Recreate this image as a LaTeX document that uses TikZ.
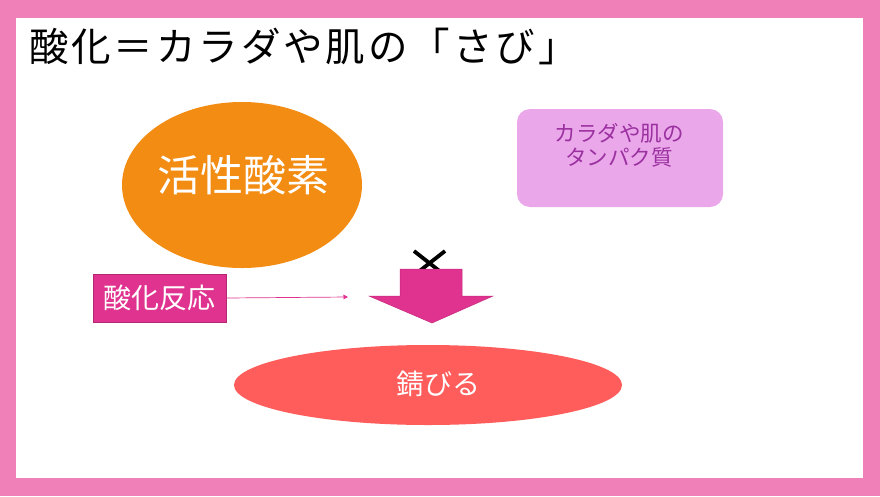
\documentclass[tikz,border=0pt]{standalone}
\usepackage{fontspec}
\newfontfamily\jp{Noto Sans CJK JP}
\usetikzlibrary{shapes.geometric,arrows.meta}
\definecolor{frame}{RGB}{240,128,184}
\definecolor{orng}{RGB}{242,140,18}
\definecolor{lilac}{RGB}{234,168,234}
\definecolor{lilactext}{RGB}{155,48,160}
\definecolor{redell}{RGB}{255,92,92}
\definecolor{mag}{RGB}{224,50,143}
\definecolor{magdark}{RGB}{180,40,115}
\newcommand\tk{\kern2.9pt}
\tikzset{
  ell/.style={ellipse,inner sep=0pt,draw=none},
  lbl/.style={font=\jp,text=white}
}
\begin{document}
\begin{tikzpicture}[x=1pt,y=-1pt]
\useasboundingbox (0,0) rectangle (880,496);
\fill[frame] (0,0) rectangle (880,496);
\fill[white] (16,18) rectangle (863,478);
% title
\node[font=\jp\fontsize{39.5}{42}\selectfont,anchor=west,inner sep=0pt] (title) at (29,46) {酸\tk 化\tk ＝\tk カ\tk ラ\tk ダ\tk や\tk 肌\tk の\tk 「\tk さ\tk び\tk 」};
% orange ellipse
\node[ell,fill=orng,minimum width=240,minimum height=166] (ao) at (242,185) {};
\node[lbl,font=\jp\fontsize{43}{45}\selectfont] (aotext) at (243,175) {活性酸素};
% purple box
\node[fill=lilac,rounded corners=13pt,minimum width=206,minimum height=98,inner sep=0pt] (prot) at (620,158) {};
\node[font=\jp\fontsize{21.5}{23.5}\selectfont,text=lilactext,align=center,anchor=north] (prottext) at (619,120) {カラダや肌の\\タンパク質};
% cross mark
\coordinate (x1) at (414,251);
\coordinate (x2) at (442,273);
\coordinate (x3) at (445,251);
\coordinate (x4) at (417,273);
\draw[line width=3.8pt] (x1) -- (x2);
\draw[line width=3.8pt] (x3) -- (x4);
% down arrow
\fill[mag,draw=magdark!60!mag,line width=0.5pt] (400,269) -- (462,269) -- (462,296) -- (493,296) -- (432,323) -- (369,296) -- (400,296) -- cycle;
\coordinate (arr) at (348,297);
% reaction box
\node[fill=mag,draw=magdark,line width=0.8pt,minimum width=133,minimum height=48,inner sep=0pt,lbl,font=\jp\fontsize{28}{30}\selectfont] (rx) at (159.5,298) {酸化反応};
\draw[mag,line width=0.7pt,-{Triangle[length=4.5pt,width=4.5pt]}] (rx.east) -- (arr);
% red ellipse
\node[ell,fill=redell,minimum width=388,minimum height=80] (rust) at (428,385) {};
\node[lbl,font=\jp\fontsize{28}{30}\selectfont] (rusttext) at (438,384) {錆びる};
\end{tikzpicture}
\end{document}
